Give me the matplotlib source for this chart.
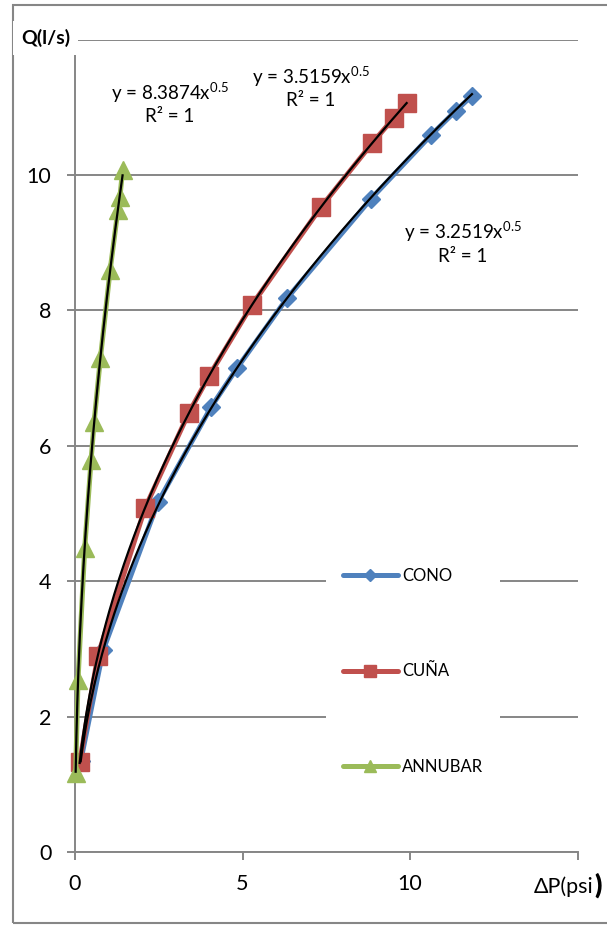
import numpy as np
import matplotlib
matplotlib.use("Agg")
import matplotlib.pyplot as plt
from matplotlib.patches import Rectangle

plt.rcParams['font.family'] = ['Lato', 'Open Sans', 'DejaVu Sans']
plt.rcParams['mathtext.fontset'] = 'custom'
plt.rcParams['mathtext.rm'] = 'Lato'

# Measured flow (l/s) versus differential pressure (psi) for three meters
cono_dp = [0.17, 0.84, 2.48, 4.06, 4.84, 6.33, 8.84, 10.63, 11.37, 11.85]
cono_q = [1.34, 2.98, 5.17, 6.57, 7.15, 8.18, 9.65, 10.59, 10.95, 11.17]

cuna_dp = [0.14, 0.68, 2.09, 3.40, 4.00, 5.28, 7.35, 8.87, 9.51, 9.90]
cuna_q = [1.33, 2.90, 5.08, 6.49, 7.03, 8.08, 9.53, 10.47, 10.84, 11.06]

annubar_dp = [0.02, 0.09, 0.29, 0.48, 0.57, 0.76, 1.05, 1.28, 1.34, 1.42]
annubar_q = [1.17, 2.54, 4.49, 5.79, 6.35, 7.30, 8.60, 9.48, 9.67, 10.07]

# Power-law fits  Q = a * dP^b
fit_a = [3.2519, 3.5159, 8.3874]
fit_b = [0.5, 0.5, 0.5]
fit_r2 = [1, 1, 1]

series_names = ["CONO", "CUÑA", "ANNUBAR"]
colors = ["#4F81BD", "#C0504D", "#9BBB59"]
markers = ["D", "s", "^"]
msizes = [9.5, 13, 13.5]

x_ticks = [0, 5, 10, 15]
x_ticklabels = ["0", "5", "10", ""]
y_ticks = [0, 2, 4, 6, 8, 10, 12]
y_ticklabels = ["0", "2", "4", "6", "8", "10", ""]

W, H = 607, 925
fig = plt.figure(figsize=(W / 100, H / 100), dpi=100)
fig.patch.set_facecolor("white")

ax = fig.add_axes([75 / W, 73 / H, 502.5 / W, 812.4 / H])
ax.set_xlim(0, 15)
ax.set_ylim(0, 12)

grid_c = "#868686"
ax.set_axisbelow(True)
ax.grid(axis="y", color=grid_c, linewidth=1.4)
ax.grid(axis="x", visible=False)
for s in ["top", "right"]:
    ax.spines[s].set_visible(False)
for s in ["left", "bottom"]:
    ax.spines[s].set_color(grid_c)
    ax.spines[s].set_linewidth(1.4)

ax.set_xticks(x_ticks)
ax.set_xticklabels(x_ticklabels)
ax.set_yticks(y_ticks)
ax.set_yticklabels(y_ticklabels)
ax.tick_params(axis="both", direction="out", length=6, width=1.4, color=grid_c,
               labelsize=15.5, labelcolor="black")
ax.tick_params(axis="x", pad=10)
ax.tick_params(axis="y", pad=11)

data = [(cono_dp, cono_q), (cuna_dp, cuna_q), (annubar_dp, annubar_q)]
handles = []
for i, (xs, ys) in enumerate(data):
    h, = ax.plot(xs, ys, color=colors[i], linewidth=3.6, marker=markers[i],
                 markersize=msizes[i], markerfacecolor=colors[i],
                 markeredgecolor=colors[i], solid_capstyle="round",
                 label=series_names[i], zorder=3 + i, clip_on=False)
    handles.append(h)

# Trend lines over each series' range
for i, (xs, ys) in enumerate(data):
    xx = np.linspace(min(xs), max(xs), 200)
    ax.plot(xx, fit_a[i] * xx ** fit_b[i], color="black", linewidth=1.6,
            zorder=10, clip_on=False)

# Fit equations
eq_pos = [(463, 232), (311, 77), (170, 93)]
for i, (px, py) in enumerate(eq_pos):
    fx, fy = px / W, 1 - py / H
    fig.text(fx, fy, "y = %.4fx$^{\\mathrm{%g}}$" % (fit_a[i], fit_b[i]),
             ha="center", va="center", fontsize=13.5, zorder=20)
    fig.text(fx, fy - 24 / H, "R² = %d" % fit_r2[i],
             ha="center", va="center", fontsize=13.5, zorder=20)

leg = ax.legend(handles=handles, loc="upper left",
                bbox_to_anchor=((326 - 75) / 502.5, (852 - 551) / 812.4),
                borderaxespad=0, frameon=True, fancybox=False, framealpha=1,
                facecolor="white", edgecolor="none", fontsize=12,
                handlelength=3.3, handletextpad=0.25, labelspacing=4.78,
                borderpad=1.0, markerscale=0.65)
leg.set_zorder(30)

# Axis titles
fig.text(21 / W, 1 - 38 / H, "Q(l/s)", ha="left", va="center", fontsize=14,
         fontweight="bold", zorder=40,
         bbox=dict(boxstyle="square,pad=0.4", facecolor="white", edgecolor="none"))
fig.text(594 / W, 1 - 887 / H, "ΔP(psi", ha="right", va="center", fontsize=15.5,
         zorder=40)
fig.text(594 / W, 1 - 885 / H, ")", ha="left", va="center", fontsize=19,
         fontweight="heavy", zorder=40)

# Chart frame
fig.patches.append(Rectangle((13 / W, 2 / H), 1.2, 918 / H, transform=fig.transFigure,
                             fill=False, edgecolor=grid_c, linewidth=1.5))

fig.savefig("out.png", dpi=100)
